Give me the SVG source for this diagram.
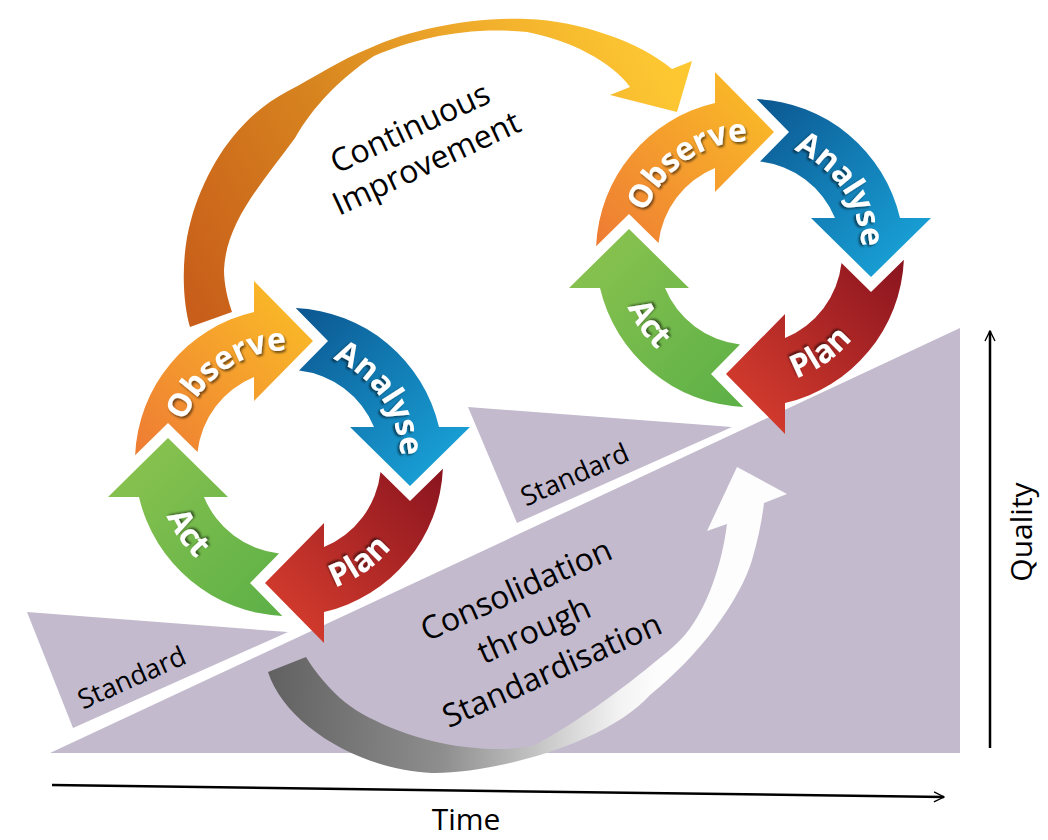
<svg xmlns="http://www.w3.org/2000/svg" xmlns:xlink="http://www.w3.org/1999/xlink" width="1048" height="840" viewBox="0 0 1048 840">
<style>
.lav{fill:#C3BACD}
.lbl{font-family:"Open Sans","Liberation Sans",sans-serif;font-size:32px;fill:#000}
.std{font-family:"Open Sans","Liberation Sans",sans-serif;font-size:27px;fill:#000}
.ax{font-family:"Open Sans","Liberation Sans",sans-serif;font-size:30px;fill:#000}
.wt{font-family:"Open Sans","Liberation Sans",sans-serif;font-size:32px;font-weight:700;fill:#fff;filter:url(#shadow)}
.axis{stroke:#000;stroke-width:2.5;fill:none}
</style>
<defs>
<filter id="shadow" x="-20%" y="-20%" width="140%" height="140%">
<feDropShadow dx="1.5" dy="2" stdDeviation="1.2" flood-color="#000" flood-opacity="0.55"/>
</filter>
<marker id="open" viewBox="0 0 10 10" refX="9" refY="5" markerWidth="5" markerHeight="5" orient="auto" markerUnits="strokeWidth">
<path d="M1,1 L9,5 L1,9" fill="none" stroke="#000" stroke-width="1.1"/>
</marker>
<path id="arrowShape" d="M-153.9,-6.7 L-121,-39 L-91.5,-10 A92,92 0 0 1 -35,-85 L-35,-61 L24,-121 L-35,-181 L-35,-150 A154,154 0 0 0 -153.9,-6.7 Z"/>
<path id="cw" d="M-105.2,38.3 A112,112 0 0 1 72,-85.8" fill="none"/>
<path id="ccw" d="M86.1,-102.6 A134,134 0 0 0 -125.9,45.8" fill="none"/>
<linearGradient id="gObs" x1="0" y1="1" x2="1" y2="0"><stop offset="0" stop-color="#EE7B34"/><stop offset="1" stop-color="#FBC126"/></linearGradient>
<linearGradient id="gAna" x1="0" y1="1" x2="1" y2="0"><stop offset="0" stop-color="#0C5690"/><stop offset="1" stop-color="#1AABE0"/></linearGradient>
<linearGradient id="gPla" x1="0" y1="1" x2="1" y2="0"><stop offset="0" stop-color="#8A141F"/><stop offset="1" stop-color="#DE412F"/></linearGradient>
<linearGradient id="gAct" x1="0" y1="1" x2="1" y2="0"><stop offset="0" stop-color="#5CB047"/><stop offset="1" stop-color="#8EC450"/></linearGradient>
<linearGradient id="gBig" gradientUnits="userSpaceOnUse" x1="200" y1="320" x2="660" y2="60"><stop offset="0" stop-color="#C85E1A"/><stop offset="0.4" stop-color="#D7841F"/><stop offset="0.75" stop-color="#F2B02C"/><stop offset="1" stop-color="#FDC732"/></linearGradient>
<linearGradient id="gGrey" gradientUnits="userSpaceOnUse" x1="268" y1="690" x2="660" y2="700"><stop offset="0" stop-color="#616161"/><stop offset="0.45" stop-color="#8E8E8E"/><stop offset="0.72" stop-color="#CBCBCB"/><stop offset="0.9" stop-color="#F3F3F3"/><stop offset="1" stop-color="#FDFDFD"/></linearGradient>
</defs>

<g id="background">
<polygon id="ramp" class="lav" points="50,753 960,328 960,753"/>
<g id="standard1"><polygon class="lav" points="27,612 288,632 73,728"/><text class="std" x="132" y="687" text-anchor="middle" transform="rotate(-24 132 678)">Standard</text></g>
<g id="standard2"><polygon class="lav" points="468,407 732,427 517,523"/><text class="std" x="575" y="484" text-anchor="middle" transform="rotate(-24 575 475)">Standard</text></g>
</g>

<g id="connectors">
<g id="consolidation">
<path fill="url(#gGrey)" d="M268,672 C285,725 360,770 432,773 C490,774 605,745 650,695 C700,655 740,600 752,560 C758,540 762,520 764,503 L787,494 L737,467 L707,531 L727,524 C722,565 705,620 673,647 C640,675 590,715 535,745 C515,750 490,750 466,747 C420,742 370,722 346,703 C330,690 315,672 306,657 Z"/>
<text class="lbl" text-anchor="middle" transform="rotate(-24 534 630)"><tspan x="534" y="597">Consolidation</tspan><tspan x="534" y="641">through</tspan><tspan x="534" y="685">Standardisation</tspan></text>
</g>
<g id="continuous">
<path fill="url(#gBig)" d="M190,327 C182,300 181,255 191,220 C206,167 238,117 288,91 C315,77 340,60 370,48 C410,30 470,17 527,19 C580,21 640,42 672,69 L692,61 L677,112 L610,95 L630,87 C612,62 570,40 527,32 C470,26 415,38 374,56 C340,78 312,108 295,138 C265,180 226,220 224,270 C224,285 228,300 232,312 Z"/>
<text class="lbl" text-anchor="middle" transform="rotate(-25 418 145)"><tspan x="418" y="137">Continuous</tspan><tspan x="418" y="176">Improvement</tspan></text>
</g>
<g id="time-axis">
<line class="axis" x1="52" y1="785" x2="944" y2="797" marker-end="url(#open)"/>
<text class="ax" x="466" y="830" text-anchor="middle">Time</text>
</g>
<g id="quality-axis">
<line class="axis" x1="990" y1="748" x2="990" y2="331" marker-end="url(#open)"/>
<text class="ax" x="1021" y="543" text-anchor="middle" transform="rotate(-90 1021 532)">Quality</text>
</g>
</g>

<g id="cycle1" transform="translate(289,462)">
<g id="c1-observe"><use href="#arrowShape" fill="url(#gObs)"/><text class="wt" text-anchor="middle"><textPath href="#cw" startOffset="50%">Observe</textPath></text></g>
<g id="c1-analyse" transform="rotate(90)"><use href="#arrowShape" fill="url(#gAna)"/><text class="wt" text-anchor="middle"><textPath href="#cw" startOffset="50%">Analyse</textPath></text></g>
<g id="c1-plan" transform="rotate(180)"><use href="#arrowShape" fill="url(#gPla)"/><text class="wt" text-anchor="middle"><textPath href="#ccw" startOffset="50%">Plan</textPath></text></g>
<g id="c1-act" transform="rotate(270)"><use href="#arrowShape" fill="url(#gAct)"/><text class="wt" text-anchor="middle"><textPath href="#ccw" startOffset="50%">Act</textPath></text></g>
</g>

<g id="cycle2" transform="translate(750,253)">
<g id="c2-observe"><use href="#arrowShape" fill="url(#gObs)"/><text class="wt" text-anchor="middle"><textPath href="#cw" startOffset="50%">Observe</textPath></text></g>
<g id="c2-analyse" transform="rotate(90)"><use href="#arrowShape" fill="url(#gAna)"/><text class="wt" text-anchor="middle"><textPath href="#cw" startOffset="50%">Analyse</textPath></text></g>
<g id="c2-plan" transform="rotate(180)"><use href="#arrowShape" fill="url(#gPla)"/><text class="wt" text-anchor="middle"><textPath href="#ccw" startOffset="50%">Plan</textPath></text></g>
<g id="c2-act" transform="rotate(270)"><use href="#arrowShape" fill="url(#gAct)"/><text class="wt" text-anchor="middle"><textPath href="#ccw" startOffset="50%">Act</textPath></text></g>
</g>
</svg>
